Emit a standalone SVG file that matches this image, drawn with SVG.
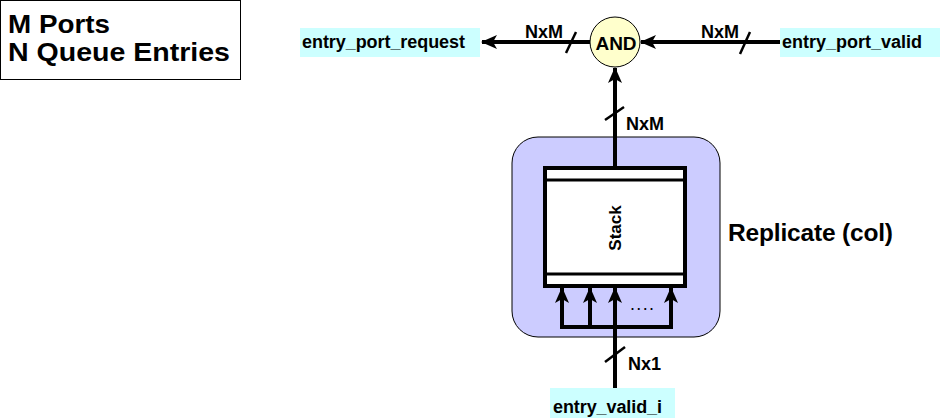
<svg xmlns="http://www.w3.org/2000/svg" width="941" height="420" viewBox="0 0 941 420">
<style>
text{font-family:"Liberation Sans",Arial,sans-serif;font-weight:bold;fill:#000}
.w{stroke:#000;stroke-width:4;fill:none}
.tk{stroke:#000;stroke-width:2.5;fill:none}
.lbl{fill:#CCFFFF}
.s18{font-size:18px}
</style>
<defs>
<marker id="ah" viewBox="0 0 16 16" refX="15" refY="8" markerWidth="16" markerHeight="16" markerUnits="userSpaceOnUse" orient="auto">
<path d="M0,1 L16,8 L0,15 L4,8 Z" fill="#000"/>
</marker>
</defs>
<rect width="941" height="420" fill="#fff"/>
<g id="legend">
<rect x="0.5" y="0.5" width="240" height="79" fill="#fff" stroke="#000" stroke-width="1"/>
<text x="8" y="33" font-size="26" textLength="102" lengthAdjust="spacingAndGlyphs">M Ports</text>
<text x="8" y="61" font-size="26" textLength="222" lengthAdjust="spacingAndGlyphs">N Queue Entries</text>
</g>
<g id="replicate">
<rect x="512" y="137" width="208" height="200" rx="26" fill="#CCCCFF" stroke="#000" stroke-width="1"/>
<text x="728" y="241" font-size="24.5" textLength="165">Replicate (col)</text>
</g>
<g id="stack">
<rect x="545" y="168" width="140" height="118" fill="#fff" stroke="#000" stroke-width="4"/>
<line x1="545" y1="180" x2="685" y2="180" stroke="#000" stroke-width="3"/>
<line x1="545" y1="274" x2="685" y2="274" stroke="#000" stroke-width="3"/>
<text transform="translate(621,228) rotate(-90)" text-anchor="middle" font-size="17">Stack</text>
</g>
<g id="and">
<circle cx="615" cy="42" r="25" fill="#FFFFCC" stroke="#000" stroke-width="1"/>
<text x="616" y="50" text-anchor="middle" font-size="19">AND</text>
</g>
<g id="entry_port_request">
<rect class="lbl" x="300" y="28" width="180" height="29"/>
<text x="302" y="48" class="s18" textLength="163">entry_port_request</text>
</g>
<g id="entry_port_valid">
<rect class="lbl" x="780" y="28" width="160" height="29"/>
<text x="782" y="48" class="s18" textLength="140">entry_port_valid</text>
</g>
<g id="entry_valid_i">
<rect class="lbl" x="550" y="388" width="125" height="30"/>
<text x="553" y="413" class="s18" textLength="109">entry_valid_i</text>
</g>
<g id="connectors">
<line class="w" x1="590" y1="42" x2="482" y2="42" marker-end="url(#ah)"/>
<line class="tk" x1="566" y1="53" x2="576" y2="32"/>
<text x="525" y="38" class="s18">NxM</text>
<line class="w" x1="780" y1="42" x2="641" y2="42" marker-end="url(#ah)"/>
<line class="tk" x1="740" y1="54" x2="750" y2="32"/>
<text x="701" y="38" class="s18">NxM</text>
<line class="w" x1="615" y1="166" x2="615" y2="68" marker-end="url(#ah)"/>
<line class="tk" x1="605" y1="120" x2="624" y2="107"/>
<text x="626" y="130" class="s18">NxM</text>
<line class="w" x1="615" y1="388" x2="615" y2="327"/>
<line class="tk" x1="605" y1="362" x2="625" y2="347"/>
<text x="628" y="370" class="s18">Nx1</text>
<polyline class="w" points="562,300 562,327 671,327 671,300"/>
<line class="w" x1="562" y1="327" x2="562" y2="288" marker-end="url(#ah)"/>
<line class="w" x1="590" y1="327" x2="590" y2="288" marker-end="url(#ah)"/>
<line class="w" x1="615" y1="327" x2="615" y2="288" marker-end="url(#ah)"/>
<line class="w" x1="671" y1="327" x2="671" y2="288" marker-end="url(#ah)"/>
<text x="630" y="310" font-size="18" style="font-weight:normal" textLength="24">....</text>
</g>
</svg>
